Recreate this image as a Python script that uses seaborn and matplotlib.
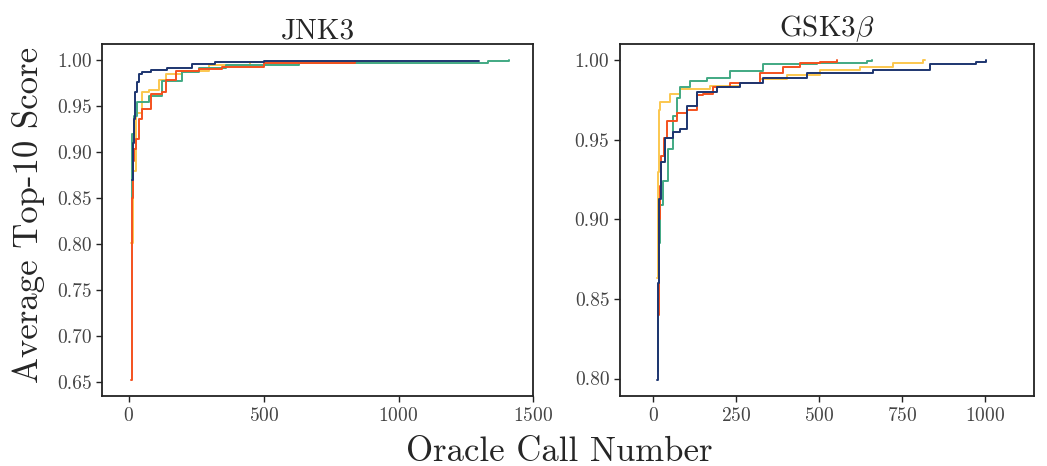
import matplotlib
matplotlib.use("Agg")
import matplotlib.pyplot as plt
import matplotlib.ticker as mticker
import numpy as np
import pandas as pd
import seaborn as sns

# ---------------- data ----------------
methods = ["yellow", "green", "red", "navy"]
colors = {"navy": "#1d3570", "green": "#41a983", "red": "#f4511e", "yellow": "#fbc74f"}

# JNK3
jnk_navy_x = [10, 15, 19, 22, 30, 36, 48, 80, 140, 235, 320, 500, 1300]
jnk_navy_y = [0.87, 0.91, 0.936, 0.966, 0.976, 0.985, 0.987, 0.989, 0.992, 0.996, 0.998, 0.999, 0.999]
jnk_green_x = [10, 12, 18, 30, 74, 123, 197, 260, 360, 630, 1330, 1409]
jnk_green_y = [0.85, 0.92, 0.939, 0.955, 0.961, 0.977, 0.987, 0.992, 0.995, 0.997, 0.9995, 1.0]
jnk_red_x = [7, 10, 14, 20, 26, 37, 48, 82, 123, 137, 175, 260, 346, 500, 840]
jnk_red_y = [0.652, 0.85, 0.89, 0.903, 0.914, 0.936, 0.947, 0.963, 0.965, 0.979, 0.988, 0.990, 0.993, 0.997, 0.9995]
jnk_yellow_x = [9, 14, 26, 48, 74, 112, 137, 197, 297, 450, 993]
jnk_yellow_y = [0.801, 0.88, 0.943, 0.965, 0.968, 0.979, 0.985, 0.988, 0.995, 0.998, 0.999]

# GSK3beta
gsk_navy_x = [12, 15, 18, 25, 36, 60, 81, 102, 132, 192, 262, 332, 463, 663, 834, 975, 1003]
gsk_navy_y = [0.799, 0.86, 0.913, 0.936, 0.951, 0.955, 0.957, 0.971, 0.980, 0.983, 0.986, 0.989, 0.992, 0.994, 0.9975, 0.999, 1.0]
gsk_green_x = [15, 16, 18, 22, 30, 45, 60, 72, 81, 111, 162, 232, 332, 493, 644, 659]
gsk_green_y = [0.805, 0.85, 0.885, 0.909, 0.924, 0.944, 0.965, 0.976, 0.983, 0.987, 0.989, 0.993, 0.9975, 0.9985, 0.9995, 1.0]
gsk_red_x = [15, 17, 20, 25, 32, 42, 72, 102, 132, 151, 181, 232, 322, 392, 443, 503, 554]
gsk_red_y = [0.84, 0.90, 0.921, 0.940, 0.951, 0.962, 0.967, 0.969, 0.978, 0.979, 0.983, 0.986, 0.992, 0.996, 0.998, 0.999, 1.0]
gsk_yellow_x = [12, 15, 19, 22, 51, 81, 172, 262, 322, 403, 503, 623, 723, 813, 819]
gsk_yellow_y = [0.863, 0.93, 0.969, 0.974, 0.979, 0.982, 0.984, 0.986, 0.988, 0.991, 0.994, 0.996, 0.9985, 1.0, 1.0]

titles = ["JNK3", r"GSK3$\beta$"]
ylabel = "Average Top-10 Score"
xlabel = "Oracle Call Number"


def build(prefix):
    g = globals()
    rows = []
    for m in methods:
        xs = g[f"{prefix}_{m}_x"]
        ys = g[f"{prefix}_{m}_y"]
        rows.append(pd.DataFrame({"calls": xs, "score": ys, "method": m}))
    return pd.concat(rows, ignore_index=True)


df_jnk = build("jnk")
df_gsk = build("gsk")

# ---------------- style ----------------
sns.set_style("ticks")
plt.rcParams["font.family"] = ["cmr10", "DejaVu Serif"]
plt.rcParams["mathtext.fontset"] = "cm"
plt.rcParams["axes.formatter.use_mathtext"] = True
plt.rcParams["axes.unicode_minus"] = False

fig = plt.figure(figsize=(10.47, 4.66), dpi=100)
ax1 = fig.add_axes([0.0974, 0.150, 0.412, 0.755])
ax2 = fig.add_axes([0.592, 0.150, 0.396, 0.755])

for ax, df, title in [(ax1, df_jnk, titles[0]), (ax2, df_gsk, titles[1])]:
    sns.lineplot(data=df, x="calls", y="score", hue="method", palette=colors,
                 hue_order=methods, estimator=None, sort=True,
                 drawstyle="steps-post", linewidth=1.4, legend=False, ax=ax)
    ax.set_title(title, fontsize=21, pad=4)
    ax.set_xlabel("")
    ax.set_ylabel("")
    for s in ax.spines.values():
        s.set_visible(True)
        s.set_color("#222222")
        s.set_linewidth(1.3)
    ax.tick_params(axis="both", labelsize=14, colors="#222222", labelcolor="#444444",
                   length=4, width=1.0)

ax1.set_xlim(-100, 1500)
ax1.xaxis.set_major_locator(mticker.MultipleLocator(500))
ax1.yaxis.set_major_locator(mticker.MultipleLocator(0.05))
ax1.yaxis.set_major_formatter(mticker.FormatStrFormatter("%.2f"))

ax2.set_xlim(-100, 1150)
ax2.xaxis.set_major_locator(mticker.MultipleLocator(250))
ax2.yaxis.set_major_locator(mticker.MultipleLocator(0.05))
ax2.yaxis.set_major_formatter(mticker.FormatStrFormatter("%.2f"))

fig.text(0.027, 0.539, ylabel, rotation=90, ha="center", va="center", fontsize=25)
fig.text(0.534, 0.03, xlabel, ha="center", va="center", fontsize=25)

fig.savefig("out.png", dpi=100)
